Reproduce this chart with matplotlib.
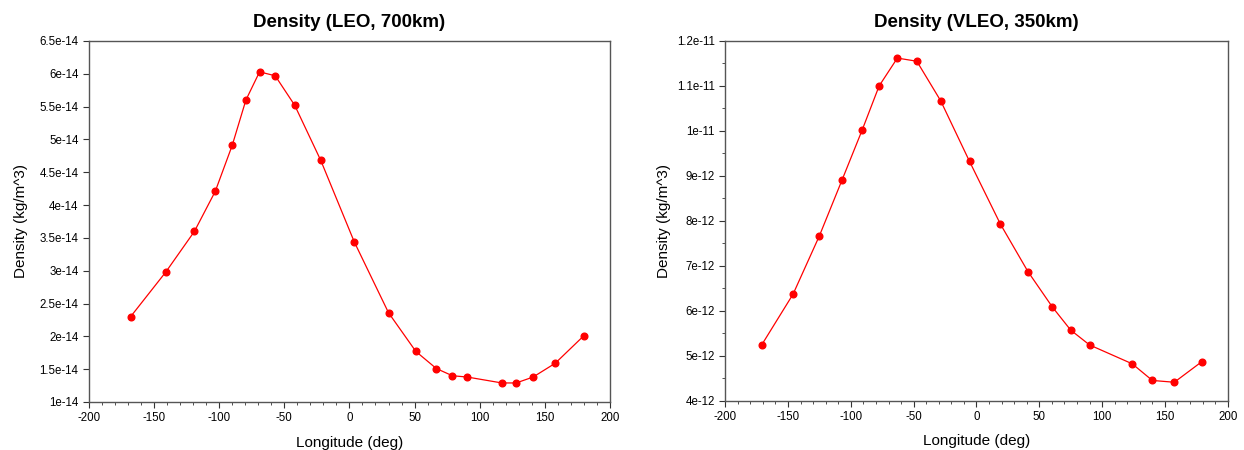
"""
Density vs longitude for LEO (700 km) and VLEO (350 km) orbits.
"""

import numpy as np
import matplotlib.pyplot as plt
from matplotlib.ticker import FuncFormatter, MultipleLocator

plt.rcParams['font.family'] = ['Liberation Sans', 'DejaVu Sans']
plt.rcParams['axes.unicode_minus'] = False

# LEO, 700 km
lon_leo = [-168, -141, -119, -103, -90, -79.5, -69, -57, -42, -22, 3.7, 30, 51,
           66.7, 79, 90.5, 117, 128, 141, 158, 180]
rho_leo = [2.30e-14, 2.98e-14, 3.60e-14, 4.21e-14, 4.91e-14, 5.60e-14, 6.03e-14,
           5.97e-14, 5.52e-14, 4.68e-14, 3.44e-14, 2.36e-14, 1.77e-14, 1.51e-14,
           1.40e-14, 1.38e-14, 1.29e-14, 1.29e-14, 1.38e-14, 1.59e-14, 2.01e-14]

# VLEO, 350 km
lon_vleo = [-171, -146, -125, -107, -91, -77.5, -63, -47.5, -28.5, -5.5, 19, 41,
            60.5, 75, 90, 124, 140, 157.5, 179.5]
rho_vleo = [5.24e-12, 6.37e-12, 7.67e-12, 8.91e-12, 10.02e-12, 11.0e-12, 11.62e-12,
            11.55e-12, 10.67e-12, 9.32e-12, 7.93e-12, 6.87e-12, 6.08e-12, 5.57e-12,
            5.24e-12, 4.82e-12, 4.45e-12, 4.41e-12, 4.87e-12]


def sci_fmt(v, pos):
    return '%g' % float('%.3g' % v)


def plot_density(ax, lon, rho, title, ylim, ystep, yminor=None, ypad=6):
    """Plot one density curve in the style of the reference."""
    ax.plot(lon, rho, color='#ff0000', lw=0.9, marker='o', ms=4.8,
            mec='#ff0000', mfc='#ff0000')
    ax.set_xlim(-200, 200)
    ax.set_ylim(*ylim)
    ax.xaxis.set_major_locator(MultipleLocator(50))
    ax.xaxis.set_minor_locator(MultipleLocator(10))
    ax.set_yticks(np.arange(ylim[0], ylim[1] + ystep / 2, ystep))
    if yminor:
        ax.yaxis.set_minor_locator(MultipleLocator(yminor))
    ax.yaxis.set_major_formatter(FuncFormatter(sci_fmt))
    ax.tick_params(which='both', direction='out', labelsize=8.3, color='#333333')
    ax.tick_params(which='major', length=4)
    ax.tick_params(which='minor', length=2)
    ax.tick_params(top=False, right=False)
    for s in ax.spines.values():
        s.set_color('#555555')
        s.set_linewidth(1.0)
    ax.set_title(title, fontsize=13.5, fontweight='bold', pad=10)
    ax.set_xlabel('Longitude (deg)', fontsize=11, labelpad=8)
    ax.set_ylabel('Density (kg/m^3)', fontsize=11, labelpad=ypad)


fig = plt.figure(figsize=(12.44, 4.5), dpi=100)
ax1 = fig.add_axes([0.0715, 0.1067, 0.4188, 0.8022])
ax2 = fig.add_axes([0.583, 0.1096, 0.4039, 0.7993])

plot_density(ax1, lon_leo, rho_leo, 'Density (LEO, 700km)', (1e-14, 6.5e-14), 0.5e-14,
             ypad=8)
plot_density(ax2, lon_vleo, rho_vleo, 'Density (VLEO, 350km)', (4e-12, 12e-12), 1e-12,
             yminor=0.5e-12, ypad=4)

fig.savefig('out.png', dpi=100)
